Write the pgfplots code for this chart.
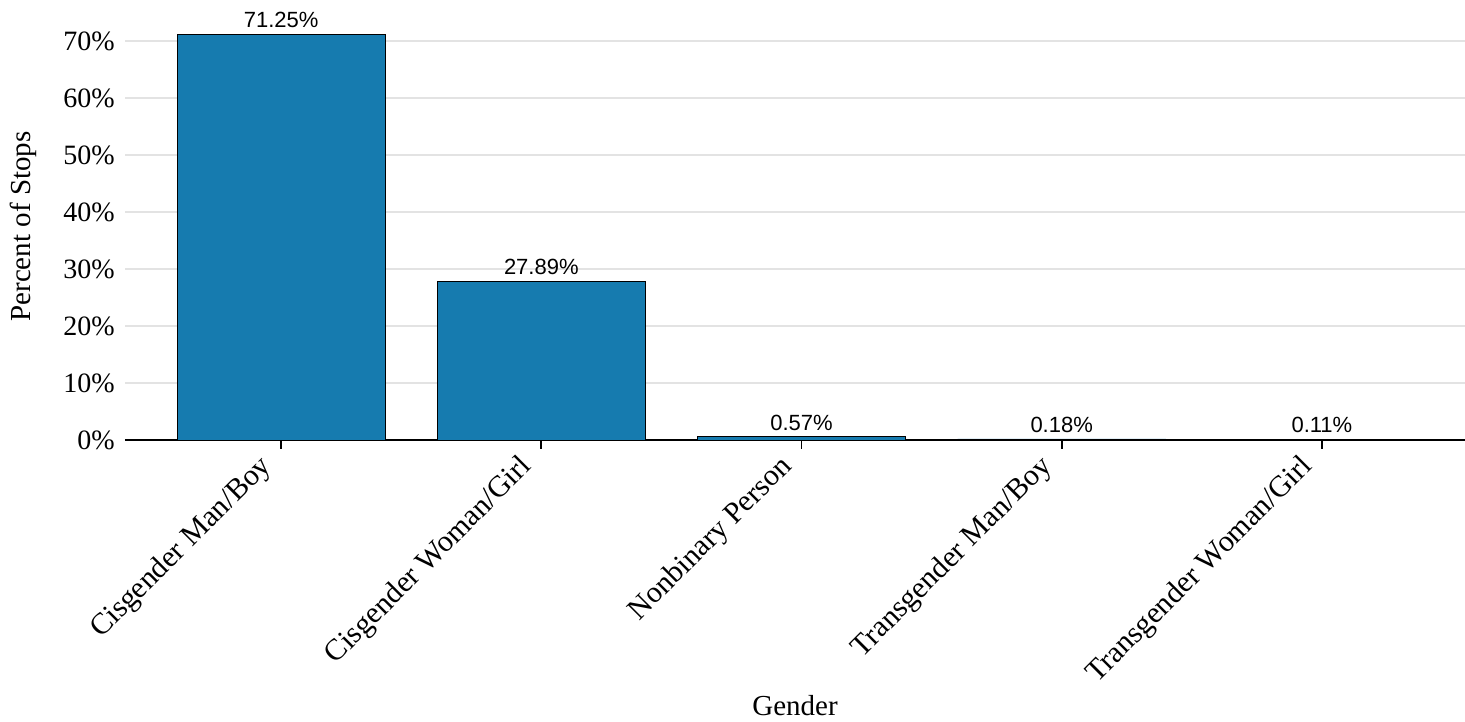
\documentclass[border=0pt]{standalone}
\usepackage{fontspec}
\setmainfont{Liberation Serif}
\newfontfamily\arialfont{Liberation Sans}
\usepackage{pgfplots}
\pgfplotsset{compat=1.18}
\definecolor{barblue}{HTML}{167BAF}
\definecolor{gridgray}{HTML}{E3E3E3}
\begin{document}
\begin{tikzpicture}[x=1pt,y=1pt]
\useasboundingbox (0,0) rectangle (1465,722);
\begin{axis}[
  at={(125pt,282pt)}, anchor=south west,
  scale only axis, width=1340pt, height=427pt,
  xmin=-0.6, xmax=4.55, ymin=0, ymax=75,
  axis x line*=bottom, axis y line*=left,
  x axis line style={line width=2.4pt, black},
  y axis line style={draw=none},
  ytick={0,10,20,30,40,50,60,70},
  yticklabels={0\%,10\%,20\%,30\%,40\%,50\%,60\%,70\%},
  major y tick style={draw=none},
  ymajorgrids, grid style={gridgray, line width=2pt},
  xtick={0,1,2,3,4},
  xticklabels={Cisgender Man/Boy,Cisgender Woman/Girl,Nonbinary Person,Transgender Man/Boy,Transgender Woman/Girl},
  tick align=outside, major tick length=9pt,
  major x tick style={black, line width=1.8pt},
  yticklabel style={font=\fontsize{28}{32}\selectfont, inner sep=1pt},
  xticklabel style={font=\fontsize{30}{34}\selectfont, rotate=45, anchor=north east, inner sep=2pt, xshift=-17pt, yshift=16pt},
  xlabel={Gender}, ylabel={Percent of Stops},
  xlabel style={at={(axis description cs:0.5,-0.623)}, anchor=center, font=\fontsize{29}{33}\selectfont},
  ylabel style={at={(axis description cs:-0.0755,0.5)}, rotate=0, anchor=center, font=\fontsize{29}{33}\selectfont},
  ybar, bar width=0.8,
  nodes near coords={\pgfmathprintnumber[fixed,fixed zerofill,precision=2,assume math mode=true]{\pgfplotspointmeta}\%},
  every node near coord/.append style={font=\arialfont\fontsize{22}{25}\selectfont, black, inner sep=6pt},
  clip=false,
]
\addplot[fill=barblue, draw=black, line width=0.8pt] coordinates {
  (0,71.25) (1,27.89) (2,0.57) (3,0.18) (4,0.11)
};
\end{axis}
\end{tikzpicture}
\end{document}
